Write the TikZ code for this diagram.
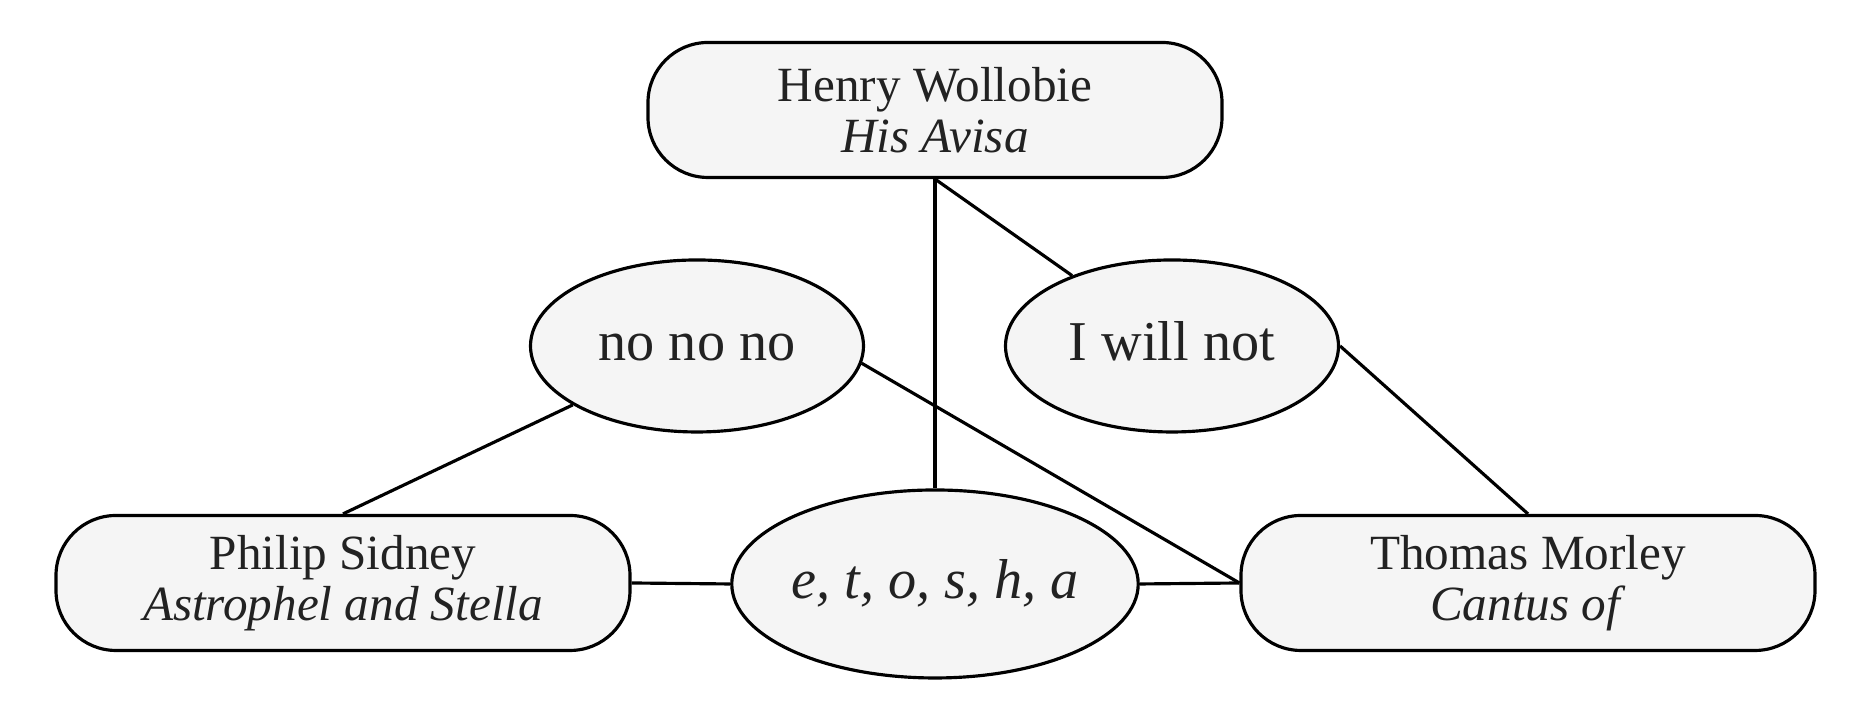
\documentclass[tikz,border=0pt]{standalone}
\usepackage{fontspec}
\setmainfont{Liberation Serif}
\usepackage{tikz}
\usetikzlibrary{shapes.geometric, positioning}
\definecolor{relleno}{HTML}{F5F5F5}
\definecolor{texto}{HTML}{222222}

\begin{document}
\begin{tikzpicture}[
		autor/.style={draw, line width=0.9pt, fill=relleno, text=texto, rounded corners=0.6cm,
			minimum width=5.74cm, minimum height=1.35cm, align=center, inner sep=0pt,
			font=\fontsize{14}{14.5}\selectfont},
		frase/.style={draw, ellipse, line width=0.9pt, fill=relleno, text=texto, inner sep=0pt,
			text height=11.5pt, text depth=3pt,
			minimum width=3.33cm, minimum height=1.72cm, font=\fontsize{16}{18}\selectfont},
		enlace/.style={line width=0.9pt}]
		\useasboundingbox (0,0) rectangle (18.72,7.2);
		% Autores y obras
		\node[autor] (wollobie) at (9.35,6.10) {Henry Wollobie\\\textit{His Avisa}};
		\node[autor] (sidney) at (3.43,1.37) {Philip Sidney\\\textit{Astrophel and Stella}};
		\node[autor] (morley) at (15.28,1.37) {Thomas Morley\\\textit{Cantus of}};
		% Frases
		\node[frase] (nono) at (6.97,3.74) {no no no};
		\node[frase] (willnot) at (11.72,3.74) {I will not};
		\node[frase, minimum width=4.06cm, minimum height=1.88cm] (letras) at (9.35,1.36) {\textit{e, t, o, s, h, a}};
		% Conexiones
		\draw[enlace] (wollobie.south) -- (letras.north);
		\draw[enlace] (wollobie.south) -- (willnot);
		\draw[enlace] (sidney.north) -- (nono);
		\draw[enlace] (nono.-6) -- (morley.west);
		\draw[enlace] (willnot.east) -- (morley.north);
		\draw[enlace] (sidney.east) -- (letras.west);
		\draw[enlace] (letras.east) -- (morley.west);
	\end{tikzpicture}
\end{document}
